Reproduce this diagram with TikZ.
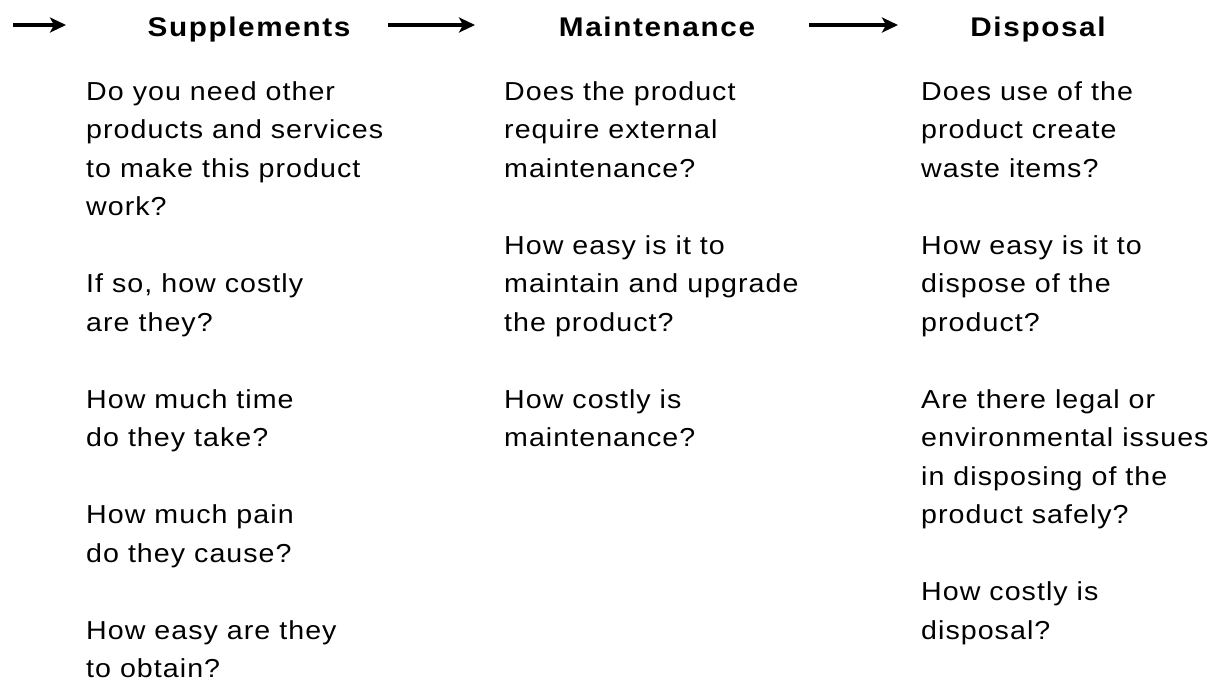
\documentclass[tikz,border=0pt]{standalone}
\usepackage{fontspec}
\setmainfont{Liberation Sans}[FakeStretch=1.1,LetterSpace=4]
\newfontfamily\headfont{Liberation Sans Bold}[FakeStretch=1.1,LetterSpace=6]
\usetikzlibrary{arrows.meta}
\newcommand{\col}[1]{\begin{tabular}[t]{@{}l@{}}#1\end{tabular}}
\newcommand{\gap}{\\[38.5pt]}
\tikzset{
  head/.style={anchor=base, inner sep=0pt, font=\fontsize{27}{30}\selectfont\headfont},
  body/.style={anchor=base west, inner sep=0pt, font=\fontsize{26}{38.5}\selectfont},
  arr/.style={line width=3.2pt, -{Stealth[length=16pt,width=15pt,inset=4pt]}}
}
\begin{document}
\begin{tikzpicture}[x=1pt,y=-1pt]
\useasboundingbox (0,0) rectangle (1228,681);
\node[head] (sup) at (249,36) {Supplements};
\node[head] (main) at (657,36) {Maintenance};
\node[head] (disp) at (1038,36) {Disposal};
\coordinate (a1s) at (13,25);  \coordinate (a1e) at (66,25);
\coordinate (a2s) at (388,25); \coordinate (a2e) at (475,25);
\coordinate (a3s) at (809,25); \coordinate (a3e) at (898,25);
\draw[arr] (a1s) -- (a1e);
\draw[arr] (a2s) -- (a2e);
\draw[arr] (a3s) -- (a3e);
\node[body] (c1) at (86,100) {\col{Do you need other\\products and services\\to make this product\\work?\gap If so, how costly\\are they?\gap How much time\\do they take?\gap How much pain\\do they cause?\gap How easy are they\\to obtain?}};
\node[body] (c2) at (504,100) {\col{Does the product\\require external\\maintenance?\gap How easy is it to\\maintain and upgrade\\the product?\gap How costly is\\maintenance?}};
\node[body] (c3) at (921,100) {\col{Does use of the\\product create\\waste items?\gap How easy is it to\\dispose of the\\product?\gap Are there legal or\\environmental issues\\in disposing of the\\product safely?\gap How costly is\\disposal?}};
\end{tikzpicture}
\end{document}
